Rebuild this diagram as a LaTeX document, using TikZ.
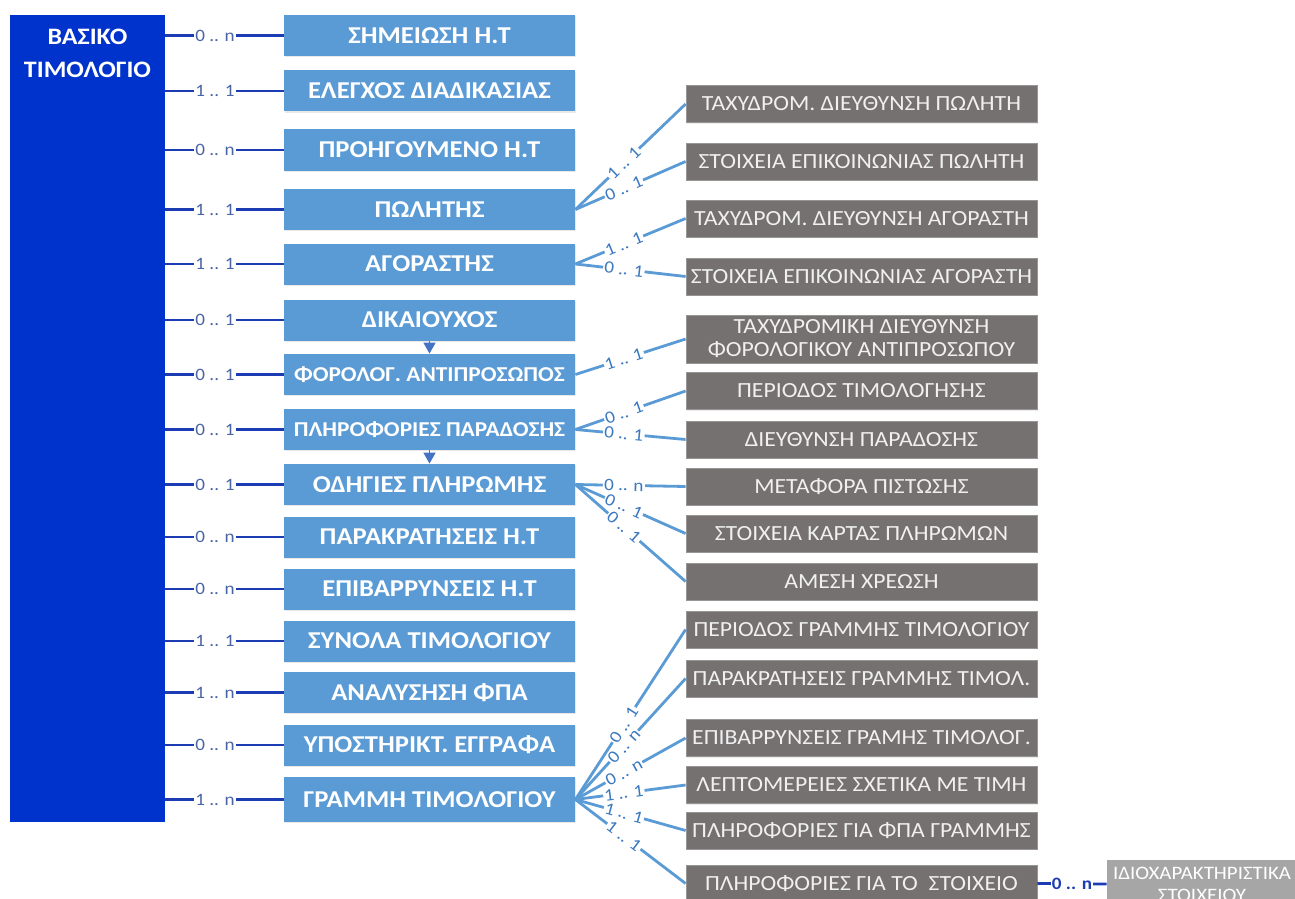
\documentclass[tikz,border=0pt]{standalone}
\usepackage{fontspec}
\setmainfont{Carlito}[FakeStretch=1.1]
\usepackage{tikz}
\usetikzlibrary{arrows.meta,shadows}

\definecolor{basicblue}{HTML}{0033CC}
\definecolor{partblue}{HTML}{5B9BD5}
\definecolor{subgray}{HTML}{767171}
\definecolor{leafgray}{HTML}{A6A6A6}
\definecolor{linknavy}{HTML}{1C3CB4}
\definecolor{multnavy}{HTML}{4A64A4}
\definecolor{multblue}{HTML}{3A78C0}
\definecolor{flowblue}{HTML}{4472C4}

\begin{document}
\begin{tikzpicture}[x=0.5pt, y=-0.5pt,
    basic/.style={rectangle, fill=basicblue, inner sep=0pt,
      minimum width=77.5pt, minimum height=403.5pt},
    part/.style={rectangle, fill=partblue, text=white, inner sep=0pt,
      minimum width=145.5pt, minimum height=20.5pt,
      font=\bfseries\fontsize{12.1}{14}\selectfont,
      drop shadow={opacity=0.18, shadow xshift=0.7pt, shadow yshift=-0.7pt}},
    sub/.style={rectangle, fill=subgray, draw=subgray!75!white, line width=0.4pt,
      text=white!94!black, inner sep=0pt, align=center,
      minimum width=175.5pt, minimum height=18.5pt,
      font=\fontsize{10.8}{11.5}\selectfont,
      drop shadow={opacity=0.15, shadow xshift=0.7pt, shadow yshift=-0.7pt}},
    leaf/.style={rectangle, fill=leafgray, text=white, inner sep=0pt, align=center,
      minimum width=95pt, minimum height=24pt,
      font=\fontsize{9.5}{11}\selectfont},
    link/.style={draw=linknavy, line width=1.4pt},
    fan/.style={draw=partblue, line width=1.4pt},
    flow/.style={color=flowblue, line width=0.8pt, -{Triangle[length=5.5pt, width=6pt]}},
    mult/.style={fill=white, inner sep=0.6pt, text=multnavy,
      font=\fontsize{8.7}{10}\selectfont},
    fanmult/.style={mult, text=multblue, sloped, pos=0.44},
  ]
  \clip (0,0) rectangle (1295,899);

  % main entity
  \node[basic, label={[anchor=north, inner sep=0pt, yshift=-6.8pt, text=white, align=center,
      font=\bfseries\fontsize{11.8}{16.5}\selectfont]north:ΒΑΣΙΚΟ\\ΤΙΜΟΛΟΓΙΟ}] (inv) at (87.5,418.5) {};

  % first level parts with their cardinality
  \foreach \nm/\yy/\txt/\card in {
      p1/35.5/{ΣΗΜΕΙΩΣΗ Η.Τ}/{0 .. n},
      p2/91/{ΕΛΕΓΧΟΣ ΔΙΑΔΙΚΑΣΙΑΣ}/{1 .. 1},
      p3/150/{ΠΡΟΗΓΟΥΜΕΝΟ Η.Τ}/{0 .. n},
      p4/209.5/{ΠΩΛΗΤΗΣ}/{1 .. 1},
      p5/264/{ΑΓΟΡΑΣΤΗΣ}/{1 .. 1},
      p6/320/{ΔΙΚΑΙΟΥΧΟΣ}/{0 .. 1},
      p7/374.5/{\fontsize{10.6}{12}\selectfont ΦΟΡΟΛΟΓ. ΑΝΤΙΠΡΟΣΩΠΟΣ}/{0 .. 1},
      p8/429.5/{\fontsize{10.6}{12}\selectfont ΠΛΗΡΟΦΟΡΙΕΣ ΠΑΡΑΔΟΣΗΣ}/{0 .. 1},
      p9/484.5/{ΟΔΗΓΙΕΣ ΠΛΗΡΩΜΗΣ}/{0 .. 1},
      p10/537/{ΠΑΡΑΚΡΑΤΗΣΕΙΣ Η.Τ}/{0 .. n},
      p11/589/{ΕΠΙΒΑΡΡΥΝΣΕΙΣ Η.Τ}/{0 .. n},
      p12/641/{ΣΥΝΟΛΑ ΤΙΜΟΛΟΓΙΟΥ}/{1 .. 1},
      p13/692.5/{ΑΝΑΛΥΣΗΣΗ ΦΠΑ}/{1 .. n},
      p14/745/{ΥΠΟΣΤΗΡΙΚΤ. ΕΓΓΡΑΦΑ}/{0 .. n}}
  {
    \node[part] (\nm) at (429.5,\yy) {\txt};
    \path[link] (inv.east |- \nm.west) edge node[mult, pos=0.42] {\card} (\nm.west);
  }
  \node[part, minimum height=22.5pt] (p15) at (429.5,799.5) {ΓΡΑΜΜΗ ΤΙΜΟΛΟΓΙΟΥ};
  \path[link] (inv.east |- p15.west) edge node[mult, pos=0.42] {1 .. n} (p15.west);

  \path[flow] (p6.south) edge (p7.north)
              (p8.south) edge (p9.north);

  % second level
  \foreach \nm/\yy/\txt in {
      s1/104/{ΤΑΧΥΔΡΟΜ. ΔΙΕΥΘΥΝΣΗ ΠΩΛΗΤΗ},
      s2/161.5/{ΣΤΟΙΧΕΙΑ ΕΠΙΚΟΙΝΩΝΙΑΣ ΠΩΛΗΤΗ},
      s3/218.5/{ΤΑΧΥΔΡΟΜ. ΔΙΕΥΘΥΝΣΗ ΑΓΟΡΑΣΤΗ},
      s4/276.5/{ΣΤΟΙΧΕΙΑ ΕΠΙΚΟΙΝΩΝΙΑΣ ΑΓΟΡΑΣΤΗ},
      s6/391/{ΠΕΡΙΟΔΟΣ ΤΙΜΟΛΟΓΗΣΗΣ},
      s7/439.5/{ΔΙΕΥΘΥΝΣΗ ΠΑΡΑΔΟΣΗΣ},
      s8/486.5/{ΜΕΤΑΦΟΡΑ ΠΙΣΤΩΣΗΣ},
      s9/533.5/{ΣΤΟΙΧΕΙΑ ΚΑΡΤΑΣ ΠΛΗΡΩΜΩΝ},
      s10/581.5/{ΑΜΕΣΗ ΧΡΕΩΣΗ},
      s11/629.5/{ΠΕΡΙΟΔΟΣ ΓΡΑΜΜΗΣ ΤΙΜΟΛΟΓΙΟΥ},
      s12/678.5/{ΠΑΡΑΚΡΑΤΗΣΕΙΣ ΓΡΑΜΜΗΣ ΤΙΜΟΛ.},
      s13/738/{ΕΠΙΒΑΡΡΥΝΣΕΙΣ ΓΡΑΜΗΣ ΤΙΜΟΛΟΓ.},
      s14/785/{ΛΕΠΤΟΜΕΡΕΙΕΣ ΣΧΕΤΙΚΑ ΜΕ ΤΙΜΗ},
      s15/830.5/{ΠΛΗΡΟΦΟΡΙΕΣ ΓΙΑ ΦΠΑ ΓΡΑΜΜΗΣ},
      s16/883.5/{ΠΛΗΡΟΦΟΡΙΕΣ ΓΙΑ ΤΟ\ \ ΣΤΟΙΧΕΙΟ}}
    \node[sub] (\nm) at (861.5,\yy) {\txt};
  \node[sub, minimum height=24pt] (s5) at (861.5,339)
    {ΤΑΧΥΔΡΟΜΙΚΗ ΔΙΕΥΘΥΝΣΗ\\ΦΟΡΟΛΟΓΙΚΟΥ ΑΝΤΙΠΡΟΣΩΠΟΥ};

  \foreach \src/\dst/\card in {
      p4/s1/{1 .. 1}, p4/s2/{0 .. 1},
      p5/s3/{1 .. 1}, p5/s4/{0 .. 1},
      p7/s5/{1 .. 1},
      p8/s6/{0 .. 1}, p8/s7/{0 .. 1},
      p9/s8/{0 .. n}, p9/s9/{0 .. 1}, p9/s10/{0 .. 1},
      p15/s11/{0 .. 1}, p15/s12/{0 .. n}, p15/s13/{0 .. n},
      p15/s14/{1 .. 1}, p15/s15/{1 .. 1}, p15/s16/{1 .. 1}}
    \path[fan] (\src.east) edge node[fanmult] {\card} (\dst.west);

  % third level
  \node[leaf] (xtra) at (1202,884) {ΙΔΙΟΧΑΡΑΚΤΗΡΙΣΤΙΚΑ\\ΣΤΟΙΧΕΙΟΥ};
  \path[link] (s16.east) edge node[mult, text=linknavy, font=\bfseries\fontsize{8.7}{10}\selectfont] {0 .. n} (xtra.west);
\end{tikzpicture}
\end{document}
